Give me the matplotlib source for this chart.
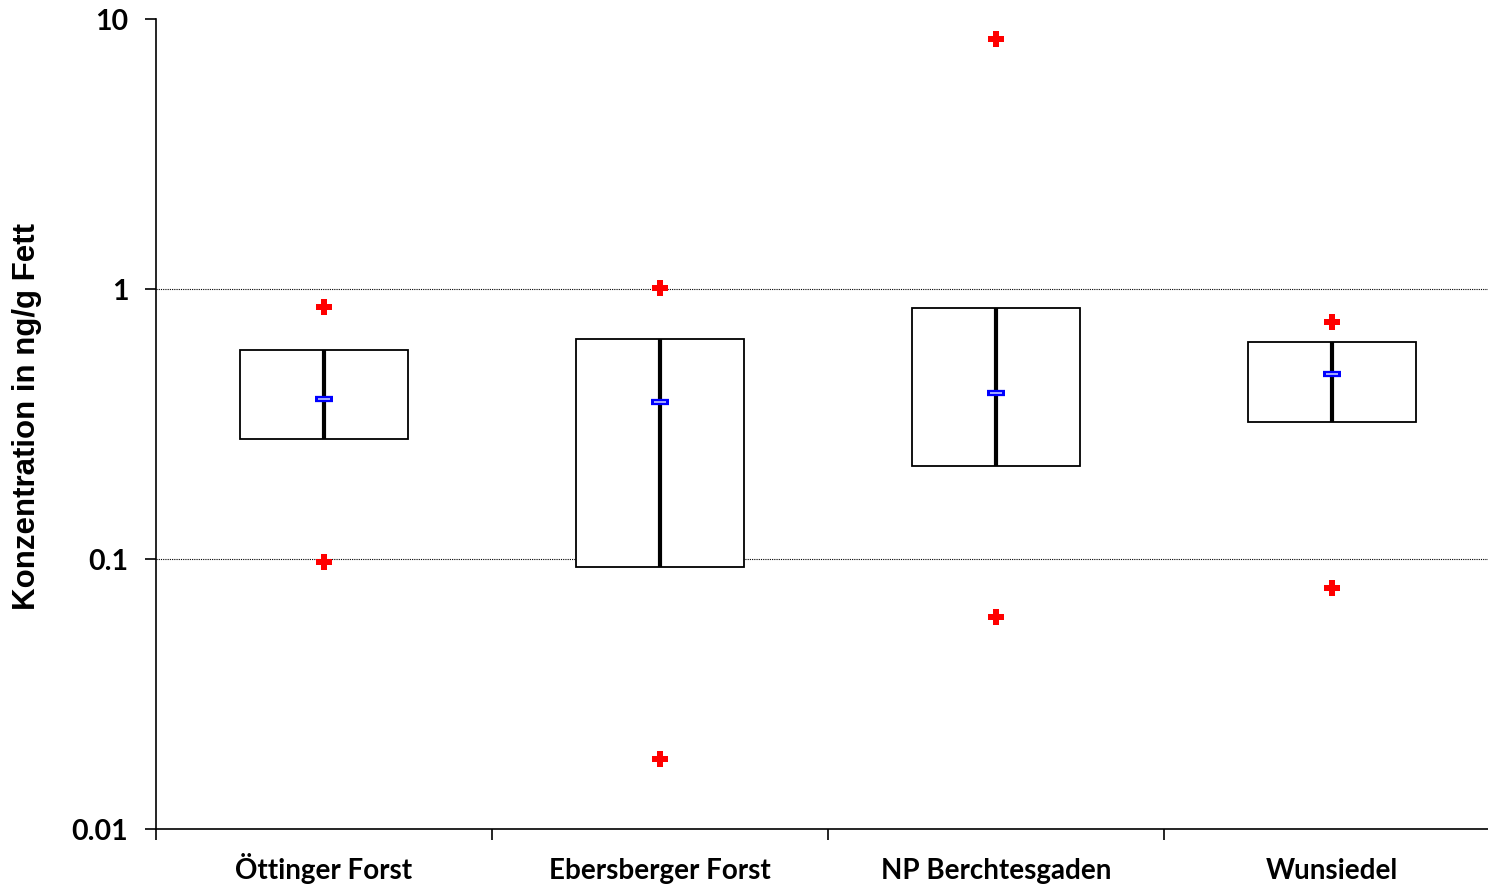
import matplotlib
matplotlib.use("Agg")
import matplotlib.pyplot as plt
from matplotlib.patches import Rectangle
from matplotlib.ticker import FixedLocator, NullLocator

categories = ["Öttinger Forst", "Ebersberger Forst", "NP Berchtesgaden", "Wunsiedel"]
minimum = [0.0975, 0.0182, 0.061, 0.078]
q25 = [0.278, 0.0934, 0.221, 0.322]
median = [0.391, 0.381, 0.412, 0.485]
q75 = [0.594, 0.653, 0.85, 0.636]
maximum = [0.858, 1.01, 8.43, 0.755]
yticks = [0.01, 0.1, 1, 10]
ytick_labels = ["0.01", "0.1", "1", "10"]

fig = plt.figure(figsize=(14.88, 8.88), dpi=100)
W, H = 1488, 888
ax = fig.add_axes([156 / W, (H - 829) / H, 1344 / W, 810 / H])
ax.set_yscale("log")
ax.set_ylim(0.01, 10)
ax.set_xlim(0.5, 4.5)

xs = list(range(1, len(categories) + 1))
bw = 0.5
for x, lo, md, hi, mn, mx in zip(xs, q25, median, q75, minimum, maximum):
    ax.add_patch(Rectangle((x - bw / 2, lo), bw, hi - lo, facecolor="white",
                           edgecolor="black", linewidth=1.3, zorder=3))
    ax.plot([x, x], [lo, hi], color="black", linewidth=3, zorder=4,
            solid_capstyle="butt")
    ax.plot([x], [md], marker="_", markersize=13, markeredgewidth=4.5,
            color="blue", zorder=5)
    ax.plot([x], [md], marker="_", markersize=9, markeredgewidth=1.2,
            color="#bfc8ff", zorder=6)
    ax.plot([x, x], [mn, mx], linestyle="none", marker="P", markersize=11,
            color="red", markeredgewidth=0, zorder=5)

for g in [0.1, 1]:
    ax.axhline(g, color="black", linewidth=0.8, linestyle=(0, (1, 1)), zorder=1)

for s in ["top", "right"]:
    ax.spines[s].set_visible(False)
ax.spines["left"].set_linewidth(1.2)
ax.spines["bottom"].set_linewidth(1.2)

ax.yaxis.set_major_locator(FixedLocator(yticks))
ax.yaxis.set_minor_locator(NullLocator())
ax.set_yticklabels(ytick_labels)
ax.tick_params(axis="y", direction="out", length=8, width=1.2, pad=12)

ax.set_xticks(xs)
ax.set_xticklabels(categories)
ax.xaxis.set_minor_locator(FixedLocator([0.5, 1.5, 2.5, 3.5]))
ax.tick_params(axis="x", which="major", length=0, pad=36)
ax.tick_params(axis="x", which="minor", direction="out", length=8, width=1.2)

for lab in ax.get_xticklabels():
    lab.set_fontfamily("Lato")
    lab.set_fontweight("bold")
    lab.set_fontsize(20)
    lab.set_verticalalignment("baseline")
for lab in ax.get_yticklabels():
    lab.set_fontfamily("Lato")
    lab.set_fontweight("bold")
    lab.set_fontsize(20.5)

ax.set_ylabel("Konzentration in ng/g Fett", fontfamily="Liberation Sans",
              fontweight="bold", fontsize=22.5)
ax.yaxis.set_label_coords(-0.085, 0.509)

fig.savefig("out.png", dpi=100)
